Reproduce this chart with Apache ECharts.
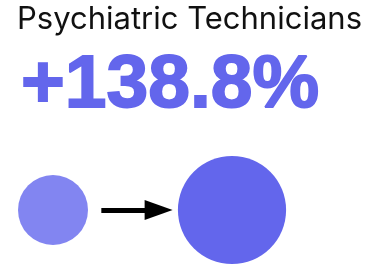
<!DOCTYPE html>
<html><head><meta charset="utf-8">
<script src="https://cdn.jsdelivr.net/npm/echarts@6/dist/echarts.min.js"></script>
<style>html,body{margin:0;padding:0;background:#fff}#c{width:379px;height:266px}</style>
</head><body><div id="c"></div>
<script>
const titleText = "Psychiatric Technicians";
const stages = ["Before", "After"];
const stageX = [0, 1];
const values = [1, 2.388];
const arrowX = [0.27, 0.59];

const change = (values[1] / values[0] - 1) * 100;
const changeText = (change >= 0 ? "+" : "") + change.toFixed(1) + "%";
const baseDiameter = 70;

const chart = echarts.init(document.getElementById('c'), null, {renderer: 'canvas'});
chart.setOption({
  animation: false,
  backgroundColor: '#ffffff',
  title: [{
    text: titleText,
    left: 17,
    top: 4,
    padding: 0,
    textStyle: {fontFamily: 'Inter', fontSize: 31, fontWeight: 400, color: '#111111'}
  }, {
    text: changeText,
    left: 21,
    top: 49,
    padding: 0,
    textStyle: {fontFamily: 'Liberation Sans', fontSize: 75, fontWeight: 'bold', color: '#6366EC',
      textBorderColor: '#6366EC', textBorderWidth: 1.8}
  }],
  grid: {left: 53, right: 147, top: 160, bottom: 6},
  xAxis: {type: 'value', min: 0, max: 1, show: false},
  yAxis: {type: 'value', min: -1, max: 1, show: false},
  series: [{
    type: 'scatter',
    data: stages.map((s, i) => ({name: s, value: [stageX[i], 0, values[i]],
      itemStyle: {color: i === 0 ? '#8285F1' : '#6366EC', opacity: 1}})),
    symbolSize: d => baseDiameter * Math.sqrt(d[2]),
    z: 2,
    markLine: {
      silent: true,
      symbol: ['none', 'triangle'],
      symbolSize: [20, 28],
      label: {show: false},
      lineStyle: {color: '#000000', width: 5, type: 'solid'},
      data: [[{coord: [arrowX[0], 0]}, {coord: [arrowX[1], 0]}]]
    }
  }]
});
</script></body></html>
